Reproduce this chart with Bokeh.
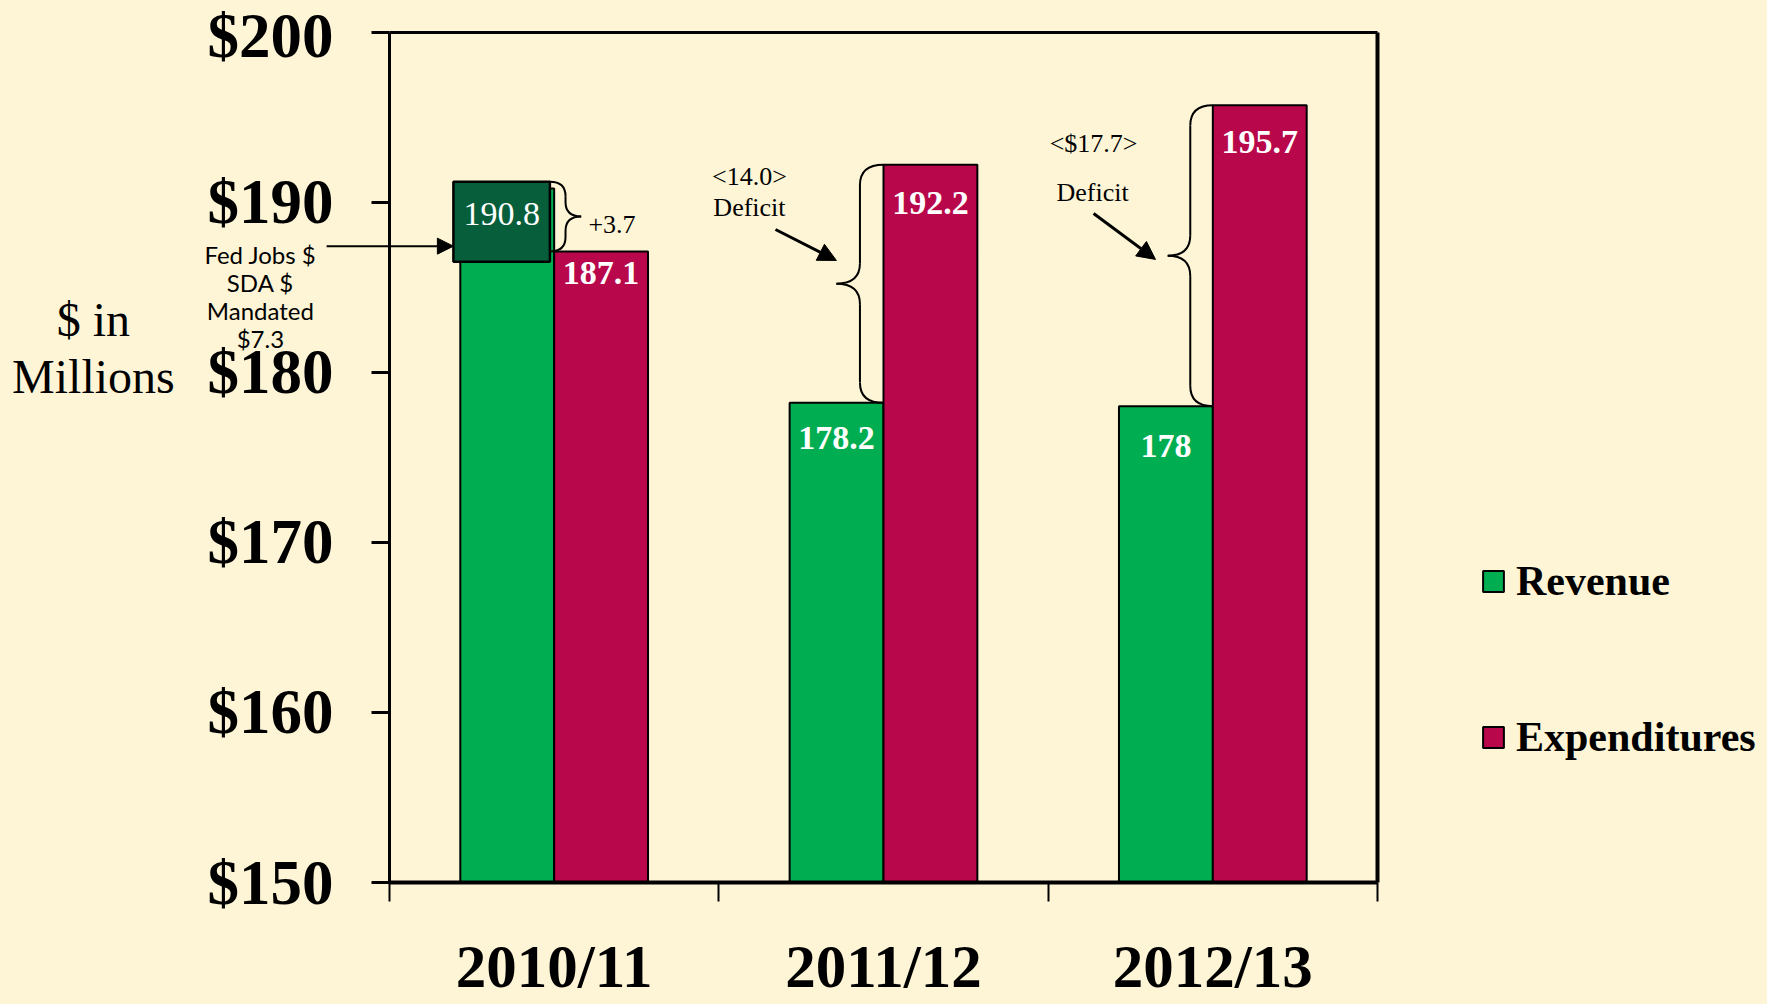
from bokeh.plotting import figure
from bokeh.models import (Range1d, FixedTicker, NumeralTickFormatter, Label, Arrow,
                          NormalHead, Legend, LegendItem, ColumnDataSource, LinearAxis)
from bokeh.core.properties import value
from bokeh.embed import file_html
from bokeh.resources import INLINE

# ---------------- data ----------------
categories = ["2010/11", "2011/12", "2012/13"]
revenue = [190.8, 178.2, 178.0]
expenditures = [187.1, 192.2, 195.7]
revenue_labels = ["190.8", "178.2", "178"]
expenditure_labels = ["187.1", "192.2", "195.7"]
y_ticks = [150, 160, 170, 180, 190, 200]
series_names = ["Revenue", "Expenditures"]

# Fed Jobs / SDA mandated block on 2010/11 revenue
fed_box_bottom = 186.5
fed_box_top = 191.2
fed_box_text = ["Fed Jobs $", "SDA $", "Mandated", "$7.3"]
gap_text = ["+3.7", "<14.0>", "<$17.7>"]
deficit_word = "Deficit"

# ---------------- style ----------------
BG = "#FEF5D6"
GREEN = "#00AD50"
RED = "#B8074A"
DARK = "#075E3B"
SERIF = "Liberation Serif"
W, H = 1767, 1004
Y0, Y1 = 150, 200
NCAT = len(categories)
BAR_W = 0.285
# pixel placement of the value area inside the canvas
PX_LEFT, PX_TOP, PX_PER_X, PX_PER_Y = 389, 31.5, 329.33, 17.01
# how far (px) each value label sits below its bar top
REV_LABEL_DROP = [32, 35, 40]
EXP_LABEL_DROP = [22, 38, 37]

x_range = Range1d(-PX_LEFT / PX_PER_X, (W - PX_LEFT) / PX_PER_X)
y_range = Range1d(Y1 - (H - PX_TOP) / PX_PER_Y, Y1 + PX_TOP / PX_PER_Y)

p = figure(width=W, height=H, x_range=x_range, y_range=y_range,
           output_backend="svg", toolbar_location=None,
           x_axis_location=None, y_axis_location=None, min_border=0,
           background_fill_color=BG, border_fill_color=BG, outline_line_color=None)
p.grid.visible = False

# ---- axes (fixed inside the canvas) ----
yaxis = LinearAxis(fixed_location=0, bounds=(Y0, Y1),
                   ticker=FixedTicker(ticks=y_ticks, minor_ticks=[]),
                   formatter=NumeralTickFormatter(format="$0"),
                   major_label_text_font=SERIF, major_label_text_font_style="bold",
                   major_label_text_font_size="63px", major_label_text_color="black",
                   major_tick_out=18, major_tick_in=0, major_tick_line_width=3,
                   major_tick_line_color="black", minor_tick_out=0,
                   axis_line_width=3, axis_line_color="black", major_label_standoff=38)
p.add_layout(yaxis, "left")

xaxis = LinearAxis(fixed_location=Y0, bounds=(0, NCAT),
                   ticker=FixedTicker(ticks=[i + 0.5 for i in range(NCAT)],
                                      minor_ticks=list(range(NCAT + 1))),
                   major_label_overrides={i + 0.5: c for i, c in enumerate(categories)},
                   major_label_text_font=SERIF, major_label_text_font_style="bold",
                   major_label_text_font_size="61px", major_label_text_color="black",
                   major_tick_out=19, major_tick_in=0, major_tick_line_color=None,
                   minor_tick_out=19, minor_tick_in=0, minor_tick_line_width=2,
                   minor_tick_line_color="black",
                   axis_line_width=4, axis_line_color="black", major_label_standoff=31)
p.add_layout(xaxis, "below")

top_axis = LinearAxis(fixed_location=Y1, bounds=(0, NCAT), ticker=FixedTicker(ticks=[]),
                      major_tick_out=0, minor_tick_out=0, major_label_text_font_size="0px",
                      axis_line_width=3, axis_line_color="black")
p.add_layout(top_axis, "above")
right_axis = LinearAxis(fixed_location=NCAT, bounds=(Y0, Y1), ticker=FixedTicker(ticks=[]),
                        major_tick_out=0, minor_tick_out=0, major_label_text_font_size="0px",
                        axis_line_width=4, axis_line_color="black")
p.add_layout(right_axis, "right")

# ---------------- bars ----------------
x_rev = [i + 0.5 - BAR_W / 2 for i in range(NCAT)]
x_exp = [i + 0.5 + BAR_W / 2 for i in range(NCAT)]
src = ColumnDataSource(dict(x_rev=x_rev, x_exp=x_exp, rev=revenue, exp=expenditures))

r_rev = p.vbar(x="x_rev", top="rev", bottom=Y0, width=BAR_W, source=src,
               fill_color=GREEN, line_color="black", line_width=2)
r_exp = p.vbar(x="x_exp", top="exp", bottom=Y0, width=BAR_W, source=src,
               fill_color=RED, line_color="black", line_width=2)

# Fed Jobs block over the 2010/11 revenue bar
box_x = x_rev[0] - 0.017
box_half = 0.1465
p.quad(left=box_x - box_half, right=box_x + box_half, bottom=fed_box_bottom, top=fed_box_top,
       fill_color=DARK, line_color="black", line_width=2.5)
p.text(x=[box_x], y=[fed_box_top], text=[revenue_labels[0]], text_font=value(SERIF),
       text_font_size="34px", text_color="white", text_align="center",
       text_baseline="middle", y_offset=REV_LABEL_DROP[0])

# value labels
rev_src = ColumnDataSource(dict(x=x_rev[1:], y=revenue[1:], t=revenue_labels[1:],
                                dy=REV_LABEL_DROP[1:]))
exp_src = ColumnDataSource(dict(x=x_exp, y=expenditures, t=expenditure_labels,
                                dy=EXP_LABEL_DROP))
for s in (rev_src, exp_src):
    p.text(x="x", y="y", text="t", source=s, text_font=value(SERIF), text_font_style="bold",
           text_font_size="34px", text_color="white", text_align="center",
           text_baseline="middle", y_offset="dy")

# ---------------- braces ----------------
def brace(x0, ytop, ybot, w, c):
    xm, xt, ym = x0 + w / 2, x0 + w, (ytop + ybot) / 2
    quads = [(x0, ytop, xm, ytop - c, xm, ytop),
             (xm, ym + c, xt, ym, xm, ym),
             (xt, ym, xm, ym - c, xm, ym),
             (xm, ybot + c, x0, ybot, xm, ybot)]
    segs = [(xm, ytop - c, xm, ym + c), (xm, ym - c, xm, ybot + c)]
    return quads, segs

brace_specs = [
    (box_x + box_half, fed_box_top, expenditures[0], 0.095, 0.85),
    (1.5, expenditures[1], revenue[1], -0.143, 1.2),
    (2.5, expenditures[2], revenue[2], -0.137, 1.2),
]
Q = {k: [] for k in ("x0", "y0", "x1", "y1", "cx", "cy")}
S = {k: [] for k in ("x0", "y0", "x1", "y1")}
for spec in brace_specs:
    quads, segs = brace(*spec)
    for q in quads:
        for k, v in zip(("x0", "y0", "x1", "y1", "cx", "cy"), q):
            Q[k].append(v)
    for s_ in segs:
        for k, v in zip(("x0", "y0", "x1", "y1"), s_):
            S[k].append(v)
p.quadratic(x0="x0", y0="y0", x1="x1", y1="y1", cx="cx", cy="cy",
            source=ColumnDataSource(Q), line_color="black", line_width=2)
p.segment(x0="x0", y0="y0", x1="x1", y1="y1", source=ColumnDataSource(S),
          line_color="black", line_width=2)

# ---------------- annotations ----------------
def lab(x, y, t, size, font=SERIF, align="center", style="normal", baseline="middle"):
    p.add_layout(Label(x=x, y=y, text=t, text_font=font, text_font_size=size,
                       text_font_style=style, text_align=align, text_baseline=baseline,
                       text_color="black"))

lab(0.604, 188.68, gap_text[0], "26px", align="left")
lab(1.093, 191.5, gap_text[1], "26px")
lab(1.093, 189.68, deficit_word, "26px")
lab(2.138, 193.44, gap_text[2], "26px")
lab(2.135, 190.56, deficit_word, "26px")

for k, t in enumerate(fed_box_text):
    lab(-0.392, 186.92 - k * 28 / PX_PER_Y, t, "24px", font="Lato")

lab(-0.899, 183.1, "$ in", "48px")
lab(-0.899, 179.75, "Millions", "48px")

p.add_layout(Arrow(end=NormalHead(size=16, fill_color="black", line_color="black"),
                   x_start=-0.191, y_start=187.41, x_end=box_x - box_half, y_end=187.41,
                   line_width=2, line_color="black"))
p.add_layout(Arrow(end=NormalHead(size=18, fill_color="black", line_color="black"),
                   x_start=1.172, y_start=188.39, x_end=1.357, y_end=186.57,
                   line_width=3, line_color="black"))
p.add_layout(Arrow(end=NormalHead(size=18, fill_color="black", line_color="black"),
                   x_start=2.138, y_start=189.33, x_end=2.326, y_end=186.63,
                   line_width=3, line_color="black"))

# ---------------- legend ----------------
legend = Legend(items=[LegendItem(label=series_names[0], renderers=[r_rev]),
                       LegendItem(label=series_names[1], renderers=[r_exp])],
                location=(1480, 243), orientation="vertical",
                glyph_width=26, glyph_height=26, label_height=46, spacing=108,
                padding=0, margin=0, label_standoff=10,
                label_text_font=SERIF, label_text_font_style="bold",
                label_text_font_size="42px", label_text_color="black",
                border_line_alpha=0, background_fill_alpha=0)
p.add_layout(legend)

html = file_html(p, INLINE, title="Revenue vs Expenditures")
html = html.replace("<body>", f'<body style="background-color:{BG};">')
open("out.html", "w").write(html)
